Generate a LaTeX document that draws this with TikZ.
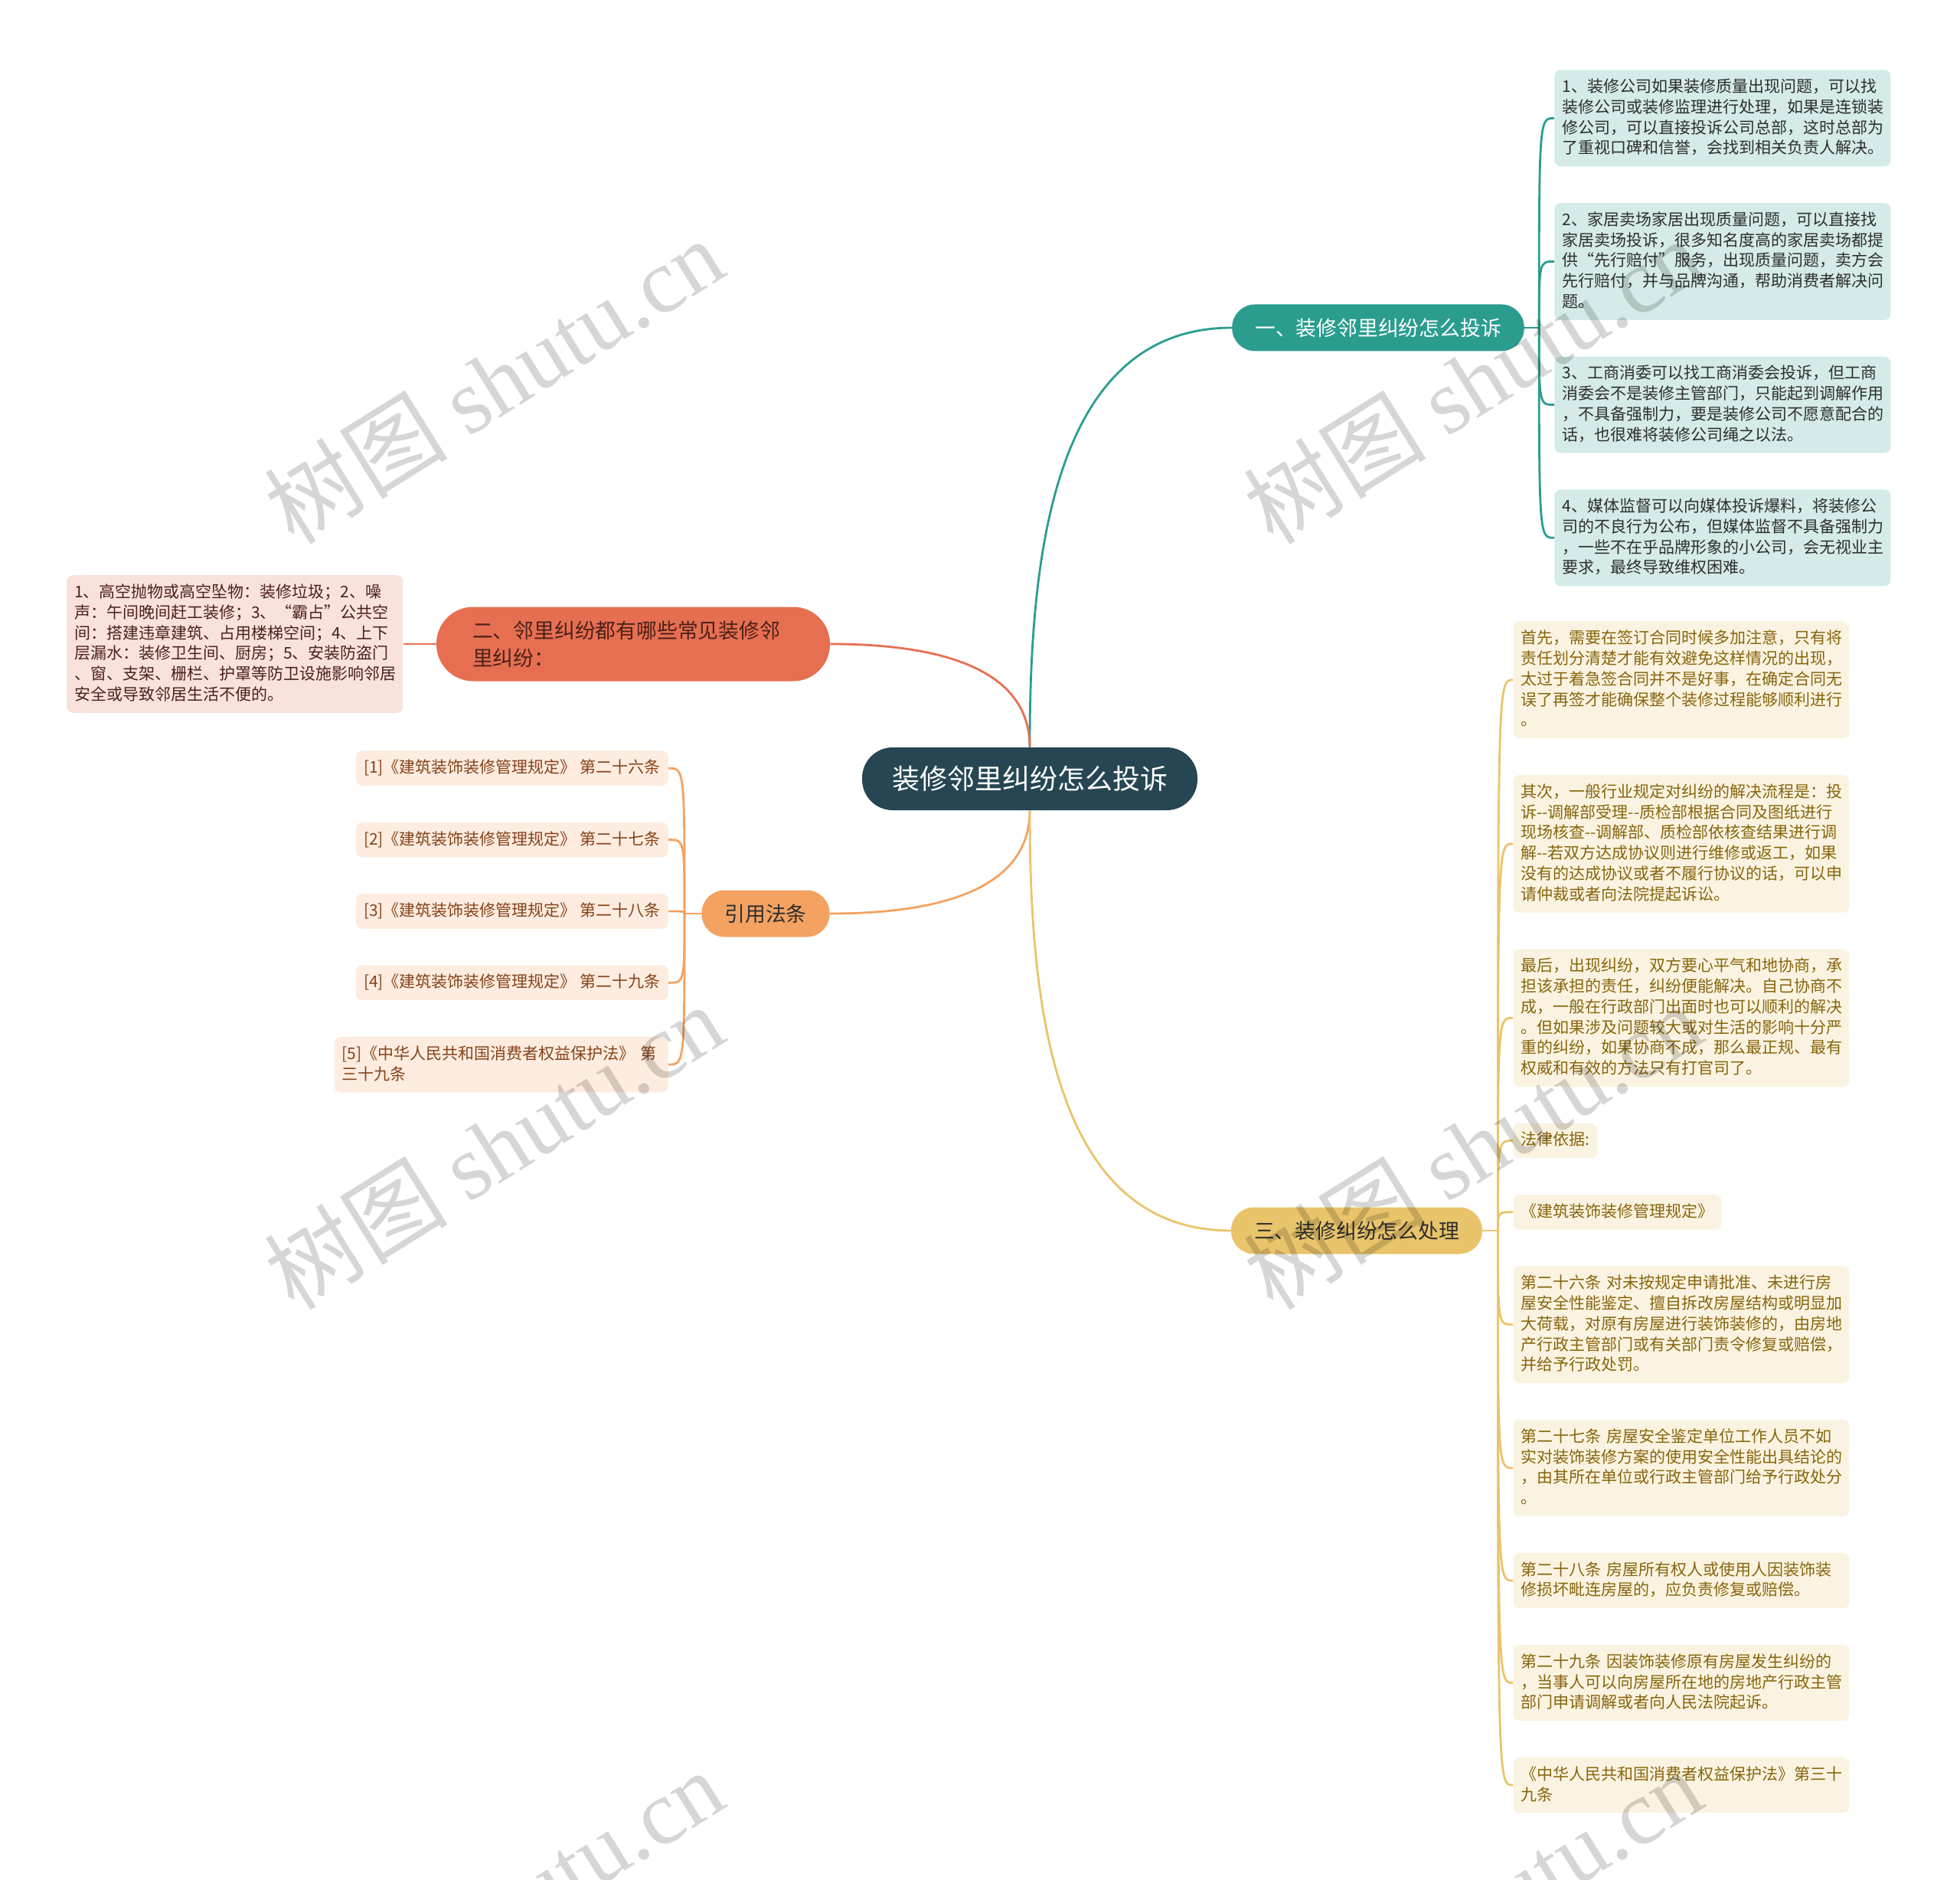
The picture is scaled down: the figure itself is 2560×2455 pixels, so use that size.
\documentclass[tikz,border=0pt]{standalone}
\usepackage{fontspec}
\setmainfont{Noto Sans CJK SC}
\newfontfamily\wmserif{Liberation Serif}
\usepackage{xcolor}
\definecolor{cRoot}{HTML}{264653}
\definecolor{cTeal}{HTML}{2A9D8F}
\definecolor{cRed}{HTML}{E76F51}
\definecolor{cOrange}{HTML}{F4A261}
\definecolor{cYellow}{HTML}{E9C46A}
\definecolor{cInk}{HTML}{2E2E2E}
\definecolor{cRedInk}{HTML}{4A2118}
\definecolor{cOrangeInk}{HTML}{85431A}
\definecolor{cYellowInk}{HTML}{86650C}
\usepackage{tikz}
\usetikzlibrary{positioning,calc}
\newcommand{\dblhy}{-\kern0pt-}
\newcommand{\leafstrut}{\vrule width 0pt height 8.6pt depth 2.4pt}
\tikzset{
  node-root/.style={fill=cRoot,text=white,rounded corners=20pt,minimum height=41pt,
    inner xsep=19.5pt,inner ysep=0pt,font=\fontsize{18}{22}\selectfont},
  node-main/.style={rounded corners=15pt,minimum height=30.5pt,inner xsep=15pt,
    inner ysep=0pt,font=\fontsize{13.4}{18}\selectfont},
  node-leaf/.style={rounded corners=4pt,inner xsep=5pt,inner ysep=5.75pt,align=left,
    font=\fontsize{10.5}{13.4}\selectfont,
    execute at begin node=\leafstrut,execute at end node=\leafstrut},
  node-wide/.style={node-leaf,text width=209.5pt},
  % 四个分支：青 / 红 / 橙 / 黄，叶子用同色浅底
  leaf-teal/.style={fill=cTeal!20,text=cInk},
  leaf-red/.style={fill=cRed!20,text=cRedInk},
  leaf-orange/.style={fill=cOrange!20,text=cOrangeInk},
  leaf-yellow/.style={fill=cYellow!20,text=cYellowInk},
  link-teal/.style={draw=cTeal,line width=1.4pt},
  link-red/.style={draw=cRed,line width=1.4pt},
  link-orange/.style={draw=cOrange,line width=1.4pt},
  link-yellow/.style={draw=cYellow,line width=1.4pt},
  watermark/.style={text=black,text opacity=0.16,rotate=32,
    font=\fontsize{60}{66}\selectfont},
}

\begin{document}
\begin{tikzpicture}[x=0.5pt,y=0.5pt,node distance=23.5pt]
  \path[fill=white,use as bounding box] (0,0) rectangle (2560,-2455);

  \node[node-root] (root) at (1345,-1017) {装修邻里纠纷怎么投诉};
  \node[node-main,fill=cTeal,text=white] (b1) at (1800,-428) {一、装修邻里纠纷怎么投诉};
  \node[node-main,fill=cRed,text=cRedInk,align=left,text width=210pt,inner xsep=23.5pt,
    rounded corners=24pt,minimum height=48.5pt] (b2) at (827,-841) {二、邻里纠纷都有哪些常见装修邻\\里纠纷：};
  \node[node-main,fill=cOrange,text=cInk] (b3) at (1000,-1193) {引用法条};
  \node[node-main,fill=cYellow,text=cInk] (b4) at (1772,-1607) {三、装修纠纷怎么处理};

  % 一、投诉
  \node[node-wide,leaf-teal,anchor=north west] (l1) at (2030,-91) {1、装修公司如果装修质量出现问题，可以找\\装修公司或装修监理进行处理，如果是连锁装\\修公司，可以直接投诉公司总部，这时总部为\\了重视口碑和信誉，会找到相关负责人解决。};
  \node[node-wide,leaf-teal,below=of l1.south west,anchor=north west] (l2) {2、家居卖场家居出现质量问题，可以直接找\\家居卖场投诉，很多知名度高的家居卖场都提\\供“先行赔付”服务，出现质量问题，卖方会\\先行赔付，并与品牌沟通，帮助消费者解决问\\题。};
  \node[node-wide,leaf-teal,below=of l2.south west,anchor=north west] (l3) {3、工商消委可以找工商消委会投诉，但工商\\消委会不是装修主管部门，只能起到调解作用\\，不具备强制力，要是装修公司不愿意配合的\\话，也很难将装修公司绳之以法。};
  \node[node-wide,leaf-teal,below=of l3.south west,anchor=north west] (l4) {4、媒体监督可以向媒体投诉爆料，将装修公\\司的不良行为公布，但媒体监督不具备强制力\\，一些不在乎品牌形象的小公司，会无视业主\\要求，最终导致维权困难。};

  % 二、常见纠纷
  \node[node-wide,leaf-red,left=21.5pt of b2] (r1) {1、高空抛物或高空坠物：装修垃圾；2、噪\\声：午间晚间赶工装修；3、“霸占”公共空\\间：搭建违章建筑、占用楼梯空间；4、上下\\层漏水：装修卫生间、厨房；5、安装防盗门\\、窗、支架、栅栏、护罩等防卫设施影响邻居\\安全或导致邻居生活不便的。};

  % 引用法条
  \node[node-leaf,leaf-orange,anchor=north east] (o1) at (873,-980) {[1]《建筑装饰装修管理规定》~第二十六条};
  \node[node-leaf,leaf-orange,below=of o1.south east,anchor=north east] (o2) {[2]《建筑装饰装修管理规定》~第二十七条};
  \node[node-leaf,leaf-orange,below=of o2.south east,anchor=north east] (o3) {[3]《建筑装饰装修管理规定》~第二十八条};
  \node[node-leaf,leaf-orange,below=of o3.south east,anchor=north east] (o4) {[4]《建筑装饰装修管理规定》~第二十九条};
  \node[node-leaf,leaf-orange,text width=208pt,below=of o4.south east,anchor=north east] (o5) {[5]《中华人民共和国消费者权益保护法》~第\\三十九条};

  % 三、处理
  \node[node-wide,leaf-yellow,anchor=north west] (y1) at (1976,-811) {首先，需要在签订合同时候多加注意，只有将\\责任划分清楚才能有效避免这样情况的出现，\\太过于着急签合同并不是好事，在确定合同无\\误了再签才能确保整个装修过程能够顺利进行\\。};
  \node[node-wide,leaf-yellow,below=of y1.south west,anchor=north west] (y2) {其次，一般行业规定对纠纷的解决流程是：投\\诉\dblhy 调解部受理\dblhy 质检部根据合同及图纸进行\\现场核查\dblhy 调解部、质检部依核查结果进行调\\解\dblhy 若双方达成协议则进行维修或返工，如果\\没有的达成协议或者不履行协议的话，可以申\\请仲裁或者向法院提起诉讼。};
  \node[node-wide,leaf-yellow,below=of y2.south west,anchor=north west] (y3) {最后，出现纠纷，双方要心平气和地协商，承\\担该承担的责任，纠纷便能解决。自己协商不\\成，一般在行政部门出面时也可以顺利的解决\\。但如果涉及问题较大或对生活的影响十分严\\重的纠纷，如果协商不成，那么最正规、最有\\权威和有效的方法只有打官司了。};
  \node[node-leaf,leaf-yellow,below=of y3.south west,anchor=north west] (y4) {法律依据:};
  \node[node-leaf,leaf-yellow,below=of y4.south west,anchor=north west] (y5) {《建筑装饰装修管理规定》};
  \node[node-wide,leaf-yellow,below=of y5.south west,anchor=north west] (y6) {第二十六条~对未按规定申请批准、未进行房\\屋安全性能鉴定、擅自拆改房屋结构或明显加\\大荷载，对原有房屋进行装饰装修的，由房地\\产行政主管部门或有关部门责令修复或赔偿，\\并给予行政处罚。};
  \node[node-wide,leaf-yellow,below=of y6.south west,anchor=north west] (y7) {第二十七条~房屋安全鉴定单位工作人员不如\\实对装饰装修方案的使用安全性能出具结论的\\，由其所在单位或行政主管部门给予行政处分\\。};
  \node[node-wide,leaf-yellow,below=of y7.south west,anchor=north west] (y8) {第二十八条~房屋所有权人或使用人因装饰装\\修损坏毗连房屋的，应负责修复或赔偿。};
  \node[node-wide,leaf-yellow,below=of y8.south west,anchor=north west] (y9) {第二十九条~因装饰装修原有房屋发生纠纷的\\，当事人可以向房屋所在地的房地产行政主管\\部门申请调解或者向人民法院起诉。};
  \node[node-wide,leaf-yellow,below=of y9.south west,anchor=north west] (y10) {《中华人民共和国消费者权益保护法》第三十\\九条};

  % 主干连线
  \draw[link-teal]   (root.north) to[out=90,in=180] (b1.west);
  \draw[link-red]    (root.north) to[out=90,in=0]   (b2.east);
  \draw[link-orange] (root.south) to[out=-90,in=0]  (b3.east);
  \draw[link-yellow] (root.south) to[out=-90,in=180] (b4.west);

  % 分支到叶子
  \coordinate (t1) at ($(b1.east)+(19,0)$);
  \coordinate (t3) at ($(b3.west)+(-22,0)$);
  \coordinate (t4) at ($(b4.east)+(20,0)$);
  \draw[link-teal] (b1.east) -- (t1);
  \foreach \n in {l1,l2,l3,l4}
    \draw[link-teal] (t1) .. controls (t1 |- \n.west) .. (\n.west);
  \draw[link-red] (b2.west) -- (r1.east);
  \draw[link-orange] (b3.west) -- (t3);
  \foreach \n in {o1,o2,o3,o4,o5}
    \draw[link-orange] (t3) .. controls (t3 |- \n.east) .. (\n.east);
  \draw[link-yellow] (b4.east) -- (t4);
  \foreach \n in {y1,y2,y3,y4,y5,y6,y7,y8,y9,y10}
    \draw[link-yellow] (t4) .. controls (t4 |- \n.west) .. (\n.west);

  % 水印
  \begin{scope}
    \clip (0,0) rectangle (2560,-2455);
    \foreach \wx in {645,1923}
      \foreach \wy in {497,1497,2497}
        \node[watermark] (wm-\wx-\wy) at (\wx,-\wy) {树图 {\wmserif shutu.cn}};
  \end{scope}
\end{tikzpicture}
\end{document}
